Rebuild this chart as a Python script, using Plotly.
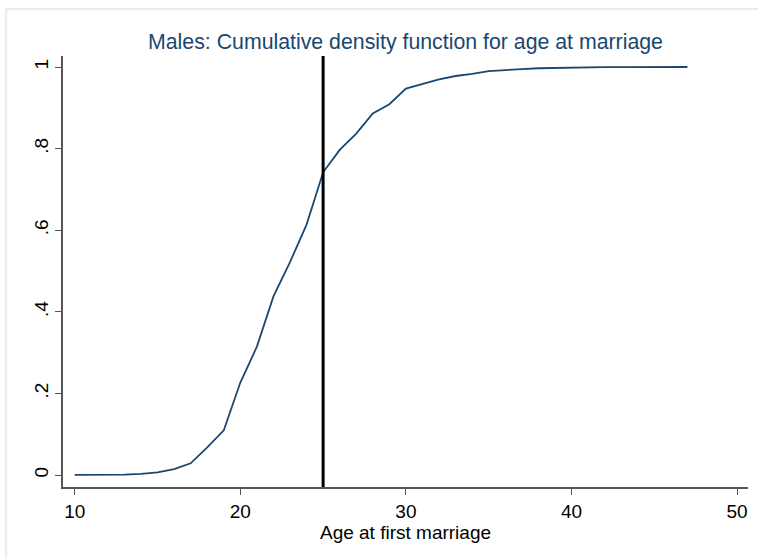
import plotly.graph_objects as go

# Cumulative share of males married by each age
ages = list(range(10, 48))
cdf = [0.0005, 0.0005, 0.001, 0.0015, 0.003, 0.007, 0.015, 0.029, 0.068, 0.110,
       0.227, 0.315, 0.438, 0.522, 0.614, 0.742, 0.797, 0.837, 0.886, 0.909,
       0.947, 0.958, 0.970, 0.978, 0.983, 0.990, 0.993, 0.995, 0.997, 0.998,
       0.9993, 0.9995, 0.9996, 0.9997, 0.9998, 0.9999, 0.9999, 1.0]

reference_age = 25

x_ticks = [10, 20, 30, 40, 50]
y_ticks = [0, 0.2, 0.4, 0.6, 0.8, 1]
y_tick_labels = ["0", ".2", ".4", ".6", ".8", "1"]

NAVY = "#1a476f"
AXIS = "#555555"
FONT = "Liberation Sans, Arial, sans-serif"

fig = go.Figure()
fig.add_trace(go.Scatter(
    x=ages, y=cdf, mode="lines",
    line=dict(color=NAVY, width=1.8),
    showlegend=False, hoverinfo="x+y",
))

fig.add_vline(x=reference_age, line=dict(color="black", width=3))

# thin frame around the graph region
fig.add_shape(type="rect", xref="paper", yref="paper",
              x0=-0.083, x1=1.2, y0=-0.3, y1=1.109,
              line=dict(color="#e6eded", width=2), layer="below")

fig.update_layout(
    width=758, height=559,
    margin=dict(l=63, r=10, t=56, b=72),
    paper_bgcolor="white", plot_bgcolor="white",
    font=dict(family=FONT, color="black", size=19),
    title=dict(text="Males: Cumulative density function for age at marriage",
               x=0.5, xanchor="center", xref="paper",
               y=1 - 42 / 559, yanchor="middle",
               font=dict(size=21.3, color=NAVY, family=FONT)),
)

fig.update_xaxes(
    range=[9.29, 50.66], tickvals=x_ticks, showgrid=False, zeroline=False,
    showline=True, linecolor=AXIS, linewidth=1.5,
    ticks="outside", ticklen=6, tickcolor=AXIS, tickwidth=1.3,
    tickfont=dict(size=19, color="black"),
    title=dict(text="Age at first marriage", font=dict(size=19, color="black"),
               standoff=0),
)
fig.update_yaxes(
    range=[-0.029, 1.027], tickvals=y_ticks, ticktext=y_tick_labels,
    showgrid=False, zeroline=False,
    showline=True, linecolor=AXIS, linewidth=1.5,
    ticks="outside", ticklen=6, tickcolor=AXIS, tickwidth=1.3,
    tickangle=-90, tickfont=dict(size=19, color="black"),
)

fig.write_html("out.html")
